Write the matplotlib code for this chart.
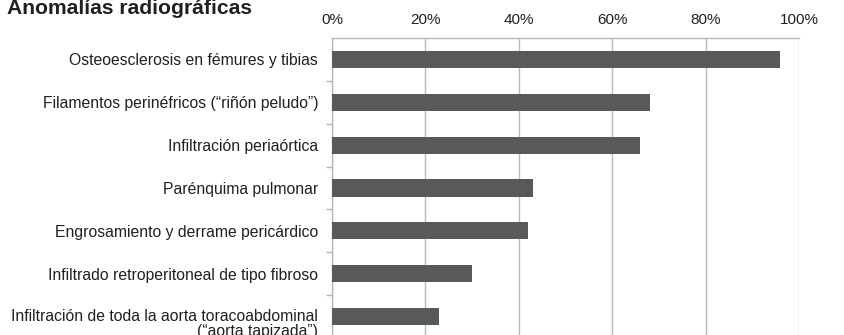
import numpy as np
import matplotlib.pyplot as plt
from matplotlib.ticker import FixedLocator
from matplotlib.transforms import ScaledTranslation

plt.rcParams['font.family'] = ['Liberation Sans', 'DejaVu Sans']

##### datos #####
categorias = [
    'Osteoesclerosis en fémures y tibias',
    'Filamentos perinéfricos (“riñón peludo”)',
    'Infiltración periaórtica',
    'Parénquima pulmonar',
    'Engrosamiento y derrame pericárdico',
    'Infiltrado retroperitoneal de tipo fibroso',
    'Infiltración de toda la aorta toracoabdominal\n(“aorta tapizada”)',
]
porcentajes = [96, 68, 66, 43, 42, 30, 23]
ticks_x = [0, 20, 40, 60, 80, 100]
etiquetas_x = ['0%', '20%', '40%', '60%', '80%', '100%']

fig = plt.figure(figsize=(8.45, 3.35), dpi=100)
ax = fig.add_axes([332 / 845, -3 / 335, (799 - 332) / 845, 300 / 335])

y = np.arange(len(categorias))
ax.barh(y, porcentajes, height=0.4, color='#58595b', zorder=3)

ax.set_xlim(0, 100)
ax.set_ylim(len(categorias) - 0.5, -0.5)

# eje x arriba
ax.xaxis.tick_top()
ax.set_xticks(ticks_x)
ax.set_xticklabels(etiquetas_x, fontsize=11, color='#231f20')
ax.tick_params(axis='x', length=0, pad=8)
ax.grid(axis='x', color='#b8b8bc', linewidth=1.0, zorder=0)

# eje y
ax.set_yticks(y)
ax.set_yticklabels(categorias, fontsize=11.3, color='#231f20', linespacing=1.0)
ax.tick_params(axis='y', which='major', length=0, pad=10)
ax.yaxis.set_minor_locator(FixedLocator(np.arange(0.5, len(categorias) - 0.5, 1)))
ax.tick_params(axis='y', which='minor', length=4, color='#b8b8bc', width=1)

# la etiqueta de dos lineas va un poco mas abajo
ult = ax.get_yticklabels()[-1]
ult.set_transform(ult.get_transform() + ScaledTranslation(0, -6 / 100, fig.dpi_scale_trans))

for lado in ['right', 'bottom']:
    ax.spines[lado].set_visible(False)
for lado in ['top', 'left']:
    ax.spines[lado].set_color('#b8b8bc')
    ax.spines[lado].set_linewidth(1.0)

fig.text(7 / 845, 1 - 14 / 335, 'Anomalías radiográficas', fontsize=15.2,
         fontweight='bold', color='#231f20', va='baseline', ha='left')

plt.savefig('out.png', dpi=100)
